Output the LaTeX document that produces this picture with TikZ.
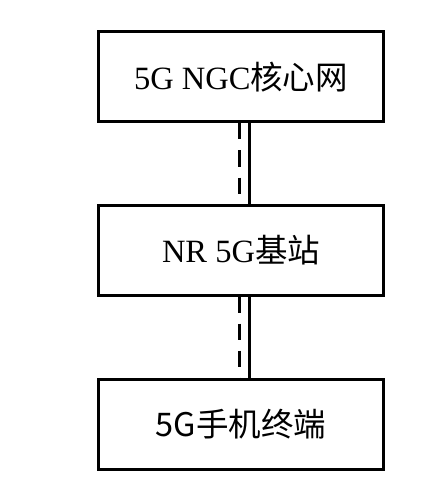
\documentclass[tikz,border=0pt]{standalone}
\usepackage{fontspec}
\setmainfont{Liberation Serif}
\newfontfamily\cjk{Noto Sans CJK SC}
\usetikzlibrary{positioning}

\begin{document}
\begin{tikzpicture}[x=1pt,y=-1pt,
  layer/.style={draw,line width=3pt,fill=white,minimum width=285pt,minimum height=90pt,inner sep=0pt,font=\fontsize{32.5}{36}\selectfont},
  link/.style={line width=3pt}]

\useasboundingbox (0,0) rectangle (437,481);

\node[layer] (core) at (241,77) {5G NGC{\cjk 核心网}};
\node[layer] (gnb) at (241,250) {NR 5G{\cjk 基站}};
\node[layer] (ue) at (241,424.5) {\cjk 5G手机终端};

\draw[link,dash pattern=on 16pt off 11pt] ([xshift=-2pt]core.south) -- ([xshift=-2pt]gnb.north);
\draw[link] ([xshift=8pt]core.south) -- ([xshift=8pt]gnb.north);

\draw[link,dash pattern=on 16pt off 11pt] ([xshift=-2pt]gnb.south) -- ([xshift=-2pt]ue.north);
\draw[link] ([xshift=8pt]gnb.south) -- ([xshift=8pt]ue.north);
\end{tikzpicture}
\end{document}
